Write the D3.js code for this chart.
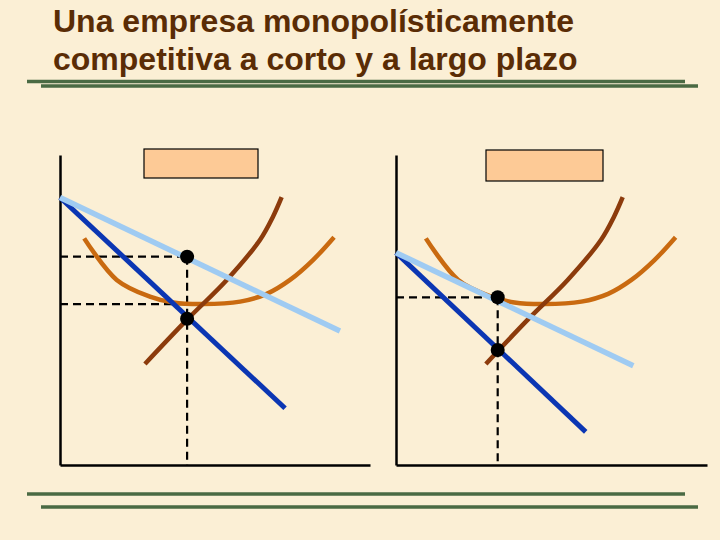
<!DOCTYPE html>
<html>
<head>
<meta charset="utf-8">
<script src="https://cdn.jsdelivr.net/npm/d3@7"></script>
<style>
	body { margin: 0; background: #fbefd5; }
	svg { display: block; }
	.title { font-family: Arial, "Liberation Sans", sans-serif; font-weight: bold; font-size: 32px; fill: #5a2c05; }
	.rule { stroke: #4a6a43; stroke-width: 3.5; }
	.axis path { stroke: #000; stroke-width: 2.5; }
	.dash { stroke: #000; stroke-width: 2.2; stroke-dasharray: 8,5; fill: none; }
	.curve { fill: none; stroke-linecap: butt; }
	.box { fill: #fdca96; stroke: #000; stroke-width: 1.2; }
</style>
</head>
<body>
<svg width="720" height="540"></svg>
<script>
const titleLines = ["Una empresa monopolísticamente", "competitiva a corto y a largo plazo"]

// Short run panel (left), values in axis units 0-100
const shortDemand = [[0, 86.3], [90.3, 43.2]]
const shortMR = [[0, 86.3], [72.6, 18.3]]
const shortMC = [[27.4, 32.6], [40.9, 46.8], [53.8, 59.7], [64.5, 72.6], [68.7, 80.1], [71.5, 86.4]]
const shortATC = [[7.8, 73.1], [18.3, 59.7], [29.0, 54.3], [36.5, 52.4], [46.1, 51.9], [58.1, 52.7], [66.7, 55.2], [74.2, 59.7], [81.6, 66.1], [88.4, 73.5]]
const shortQ = 41, shortPrice = 67.2, shortCost = 51.9, shortMCQ = 47.2

// Long run panel (right)
const longDemand = [[0, 68.5], [76.3, 32.0]]
const longMR = [[0, 68.5], [61.0, 10.7]]
const longMC = [[28.9, 32.6], [42.3, 46.8], [55.2, 59.7], [65.9, 72.6], [70.1, 80.1], [72.9, 86.4]]
const longATC = [[9.6, 73.1], [20.0, 59.7], [30.7, 54.3], [38.1, 52.4], [47.7, 51.9], [59.6, 52.7], [68.2, 55.2], [75.7, 59.7], [83.1, 66.1], [89.9, 73.5]]
const longQ = 32.7, longPrice = 54.1, longMCQ = 37.1

const svg = d3.select("svg")

svg.append("rect").attr("width", 720).attr("height", 540).attr("fill", "#fbefd5")

// Title
svg.selectAll("text.title")
	.data(titleLines)
	.enter()
	.append("text")
	.attr("class", "title")
	.attr("x", 53)
	.attr("y", (d, i) => 32 + i * 38)
	.text(d => d)

// Green rules, top and bottom
const rules = [[27, 685, 81.5], [41, 698, 86], [27, 685, 494], [41, 698, 507]]
svg.selectAll("line.rule")
	.data(rules)
	.enter()
	.append("line")
	.attr("class", "rule")
	.attr("x1", d => d[0])
	.attr("x2", d => d[1])
	.attr("y1", d => d[2])
	.attr("y2", d => d[2])

const y = d3.scaleLinear().domain([0, 100]).range([465, 155])

const panels = [
	{ range: [60, 370], box: [144, 149, 114, 29], demand: shortDemand, mr: shortMR, mc: shortMC, atc: shortATC,
	  q: shortQ, price: shortPrice, cost: shortCost, mcq: shortMCQ },
	{ range: [396, 707], box: [486, 150, 117, 31], demand: longDemand, mr: longMR, mc: longMC, atc: longATC,
	  q: longQ, price: longPrice, cost: null, mcq: longMCQ }
]

panels.forEach(p => {
	const x = d3.scaleLinear().domain([0, 100]).range(p.range)
	const g = svg.append("g")

	// label box
	g.append("rect")
		.attr("class", "box")
		.attr("x", p.box[0])
		.attr("y", p.box[1])
		.attr("width", p.box[2])
		.attr("height", p.box[3])

	// axes without ticks
	g.append("g")
		.attr("class", "axis")
		.attr("transform", "translate(" + x(0) + ",0)")
		.call(d3.axisLeft(y).tickValues([]).tickSizeOuter(0))
	g.append("g")
		.attr("class", "axis")
		.attr("transform", "translate(0," + y(0) + ")")
		.call(d3.axisBottom(x).tickValues([]).tickSizeOuter(0))

	// dashed guides
	const guides = [[[0, p.price], [p.q, p.price]], [[p.q, p.price], [p.q, 0]]]
	if (p.cost !== null) guides.push([[0, p.cost], [p.q, p.cost]])
	const straight = d3.line().x(d => x(d[0])).y(d => y(d[1]))
	g.selectAll("path.dash")
		.data(guides)
		.enter()
		.append("path")
		.attr("class", "dash")
		.attr("d", straight)

	const smooth = d3.line().x(d => x(d[0])).y(d => y(d[1])).curve(d3.curveCatmullRom.alpha(0.5))

	const curves = [
		{ pts: p.atc, color: "#c96a10", width: 4.5, line: smooth },
		{ pts: p.mc, color: "#8c3b0c", width: 4.5, line: smooth },
		{ pts: p.mr, color: "#0b36b3", width: 5, line: straight },
		{ pts: p.demand, color: "#9fcbf2", width: 5.5, line: straight }
	]
	g.selectAll("path.curve")
		.data(curves)
		.enter()
		.append("path")
		.attr("class", "curve")
		.attr("stroke", d => d.color)
		.attr("stroke-width", d => d.width)
		.attr("d", d => d.line(d.pts))

	// equilibrium dots
	g.selectAll("circle")
		.data([[p.q, p.price], [p.q, p.mcq]])
		.enter()
		.append("circle")
		.attr("cx", d => x(d[0]))
		.attr("cy", d => y(d[1]))
		.attr("r", 7)
		.attr("fill", "#000")
})
</script>
</body>
</html>
